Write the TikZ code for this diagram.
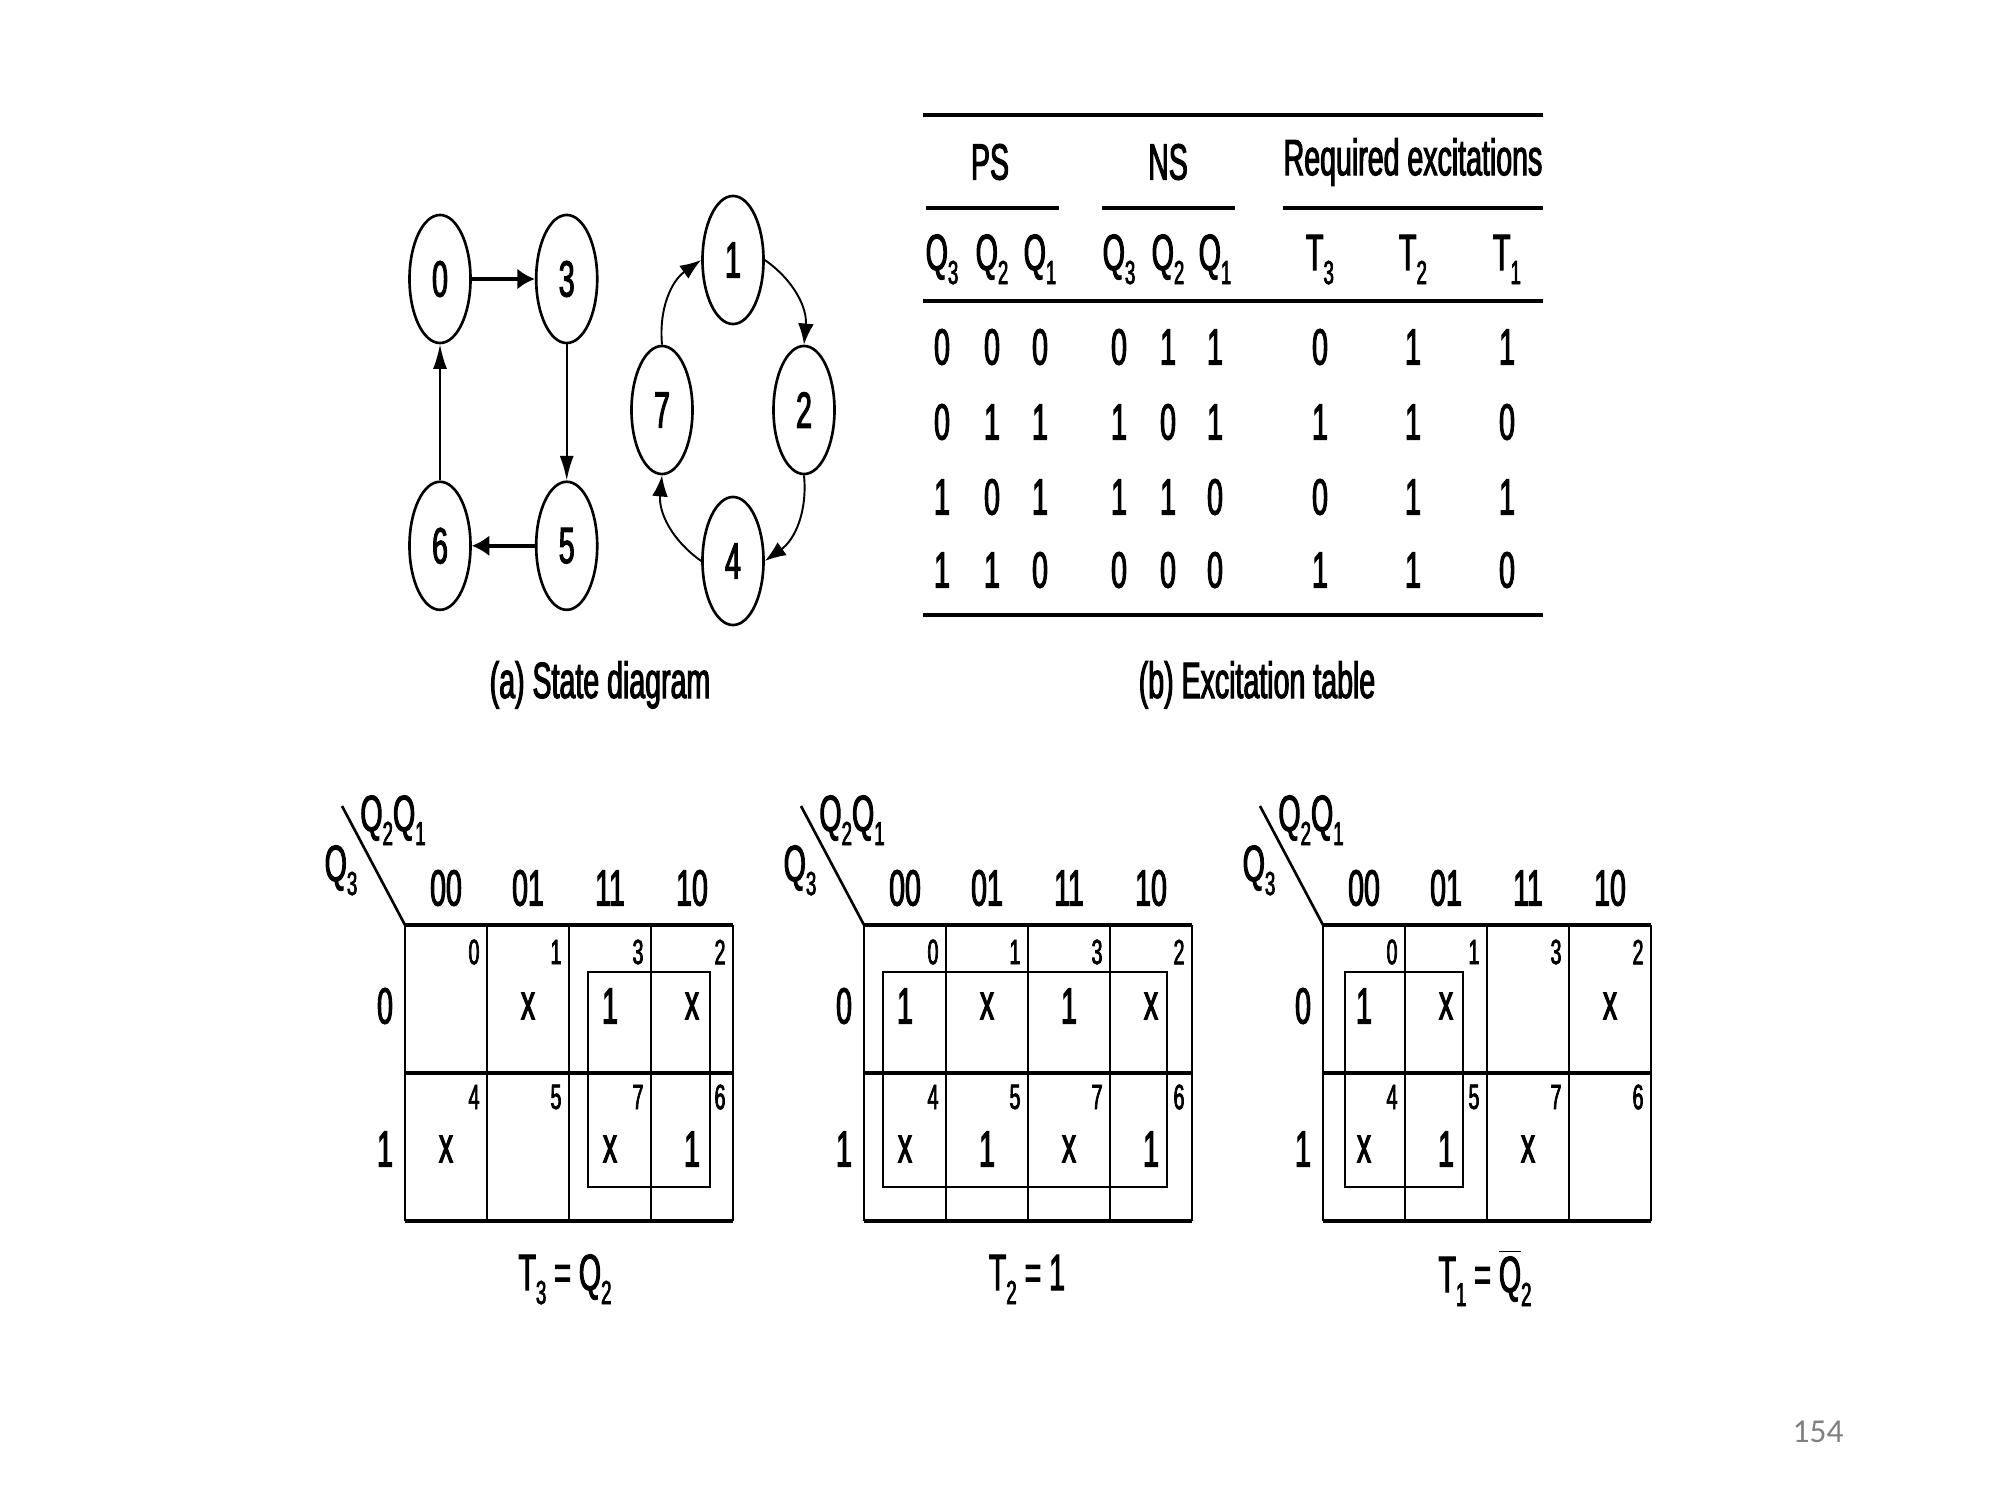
\documentclass[tikz,border=0pt]{standalone}
\usepackage{fontspec}
\newfontfamily\cond[FakeStretch=0.56, FakeBold=2]{Liberation Sans}
\newfontfamily\slidefont{Carlito}
\usetikzlibrary{arrows.meta, positioning, calc, shapes.geometric}
\newcommand{\idx}[1]{\raisebox{-4pt}{\fontsize{9.5}{10}\selectfont #1}}

\begin{document}
\begin{tikzpicture}[x=0.01cm, y=-0.01cm,
    txt/.style={font=\cond\fontsize{14.5}{16}\selectfont, inner sep=0pt},
    small/.style={font=\cond\fontsize{10}{11}\selectfont, inner sep=0pt},
    state/.style={ellipse, draw, line width=0.75pt, minimum width=0.61cm, minimum height=1.28cm, inner sep=0pt, font=\cond\fontsize{14.5}{16}\selectfont},
    arr/.style={-{Latex[length=7pt,width=4pt]}, line width=0.55pt},
    curvarr/.style={-{Latex[length=6pt,width=4.5pt]}, line width=0.55pt},
    thickarr/.style={-{Latex[length=5pt,width=6pt]}, line width=1.1pt},
    tabrule/.style={line width=1.4pt},
    subrule/.style={line width=1.2pt},
    kline/.style={line width=0.75pt},
    kthick/.style={line width=1.2pt}]
    \useasboundingbox (0,0) rectangle (2000,1500);

    % State diagram
    \node[state] (s0) at (440,279) {0};
    \node[state, right=0.63cm of s0] (s3) {3};
    \node[state, below=1.36cm of s0] (s6) {6};
    \node[state, below=1.36cm of s3] (s5) {5};

    \node[state] (s1) at (733,260) {1};
    \node[state] (s2) at (804,410) {2};
    \node[state] (s7) at (662,410) {7};
    \node[state] (s4) at (733,561) {4};

    \draw[thickarr] (s0) -- (s3);
    \draw[arr] (s3) -- (s5);
    \draw[thickarr] (s5) -- (s6);
    \draw[arr] (s6) -- (s0);

    \draw[curvarr] (s7.north) to[bend left=30] (s1.west);
    \draw[curvarr] (s1.east) to[bend left=30] (s2.north);
    \draw[curvarr] (s2.south) to[bend left=30] (s4.east);
    \draw[curvarr] (s4.west) to[bend left=30] (s7.south);

    \node[txt, anchor=base] (capa) at (600,698) {(a) State diagram};

    % Excitation table
    \draw[tabrule] (923,115) -- (1543,115);
    \node[txt] (ps) at (990,162) {PS};
    \node[txt] (ns) at (1168,162) {NS};
    \node[txt] (req) at (1413,162) {Required excitations};
    \draw[subrule] (926,208) -- (1059,208);
    \draw[subrule] (1102,208) -- (1235,208);
    \draw[subrule] (1283,208) -- (1543,208);

    \node[txt, anchor=base] (h1) at (942,270) {Q\idx{3}};
    \node[txt, anchor=base] (h2) at (992,270) {Q\idx{2}};
    \node[txt, anchor=base] (h3) at (1040,270) {Q\idx{1}};
    \node[txt, anchor=base] (h4) at (1119,270) {Q\idx{3}};
    \node[txt, anchor=base] (h5) at (1168,270) {Q\idx{2}};
    \node[txt, anchor=base] (h6) at (1215,270) {Q\idx{1}};
    \node[txt, anchor=base] (h7) at (1320,270) {T\idx{3}};
    \node[txt, anchor=base] (h8) at (1413,270) {T\idx{2}};
    \node[txt, anchor=base] (h9) at (1507,270) {T\idx{1}};
    \draw[tabrule] (923,301) -- (1543,301);

    \foreach \y/\a/\b/\c/\d/\e/\f/\g/\h/\k [count=\i] in
        {347/0/0/0/0/1/1/0/1/1, 422/0/1/1/1/0/1/1/1/0,
         497/1/0/1/1/1/0/0/1/1, 570/1/1/0/0/0/0/1/1/0} {
        \node[txt] (r\i-1) at (942,\y) {\a};
        \node[txt] (r\i-2) at (992,\y) {\b};
        \node[txt] (r\i-3) at (1040,\y) {\c};
        \node[txt] (r\i-4) at (1119,\y) {\d};
        \node[txt] (r\i-5) at (1168,\y) {\e};
        \node[txt] (r\i-6) at (1215,\y) {\f};
        \node[txt] (r\i-7) at (1320,\y) {\g};
        \node[txt] (r\i-8) at (1413,\y) {\h};
        \node[txt] (r\i-9) at (1507,\y) {\k};
    }
    \draw[tabrule] (923,615) -- (1543,615);

    \node[txt, anchor=base] (capb) at (1257,698) {(b) Excitation table};

    % K-maps
    \foreach \m in {0,1,2} {
        \pgfmathsetmacro{\ox}{405+459*\m}
        \draw[kthick] (\ox,925) -- ++(328,0) (\ox,1073) -- ++(328,0) (\ox,1221) -- ++(328,0);
        \foreach \k in {0,...,4}
            \draw[kline] (\ox+82*\k,925) -- (\ox+82*\k,1221);
        \draw[kline] (\ox,925) -- (\ox-63,806);
        \node[txt, anchor=base] (top\m) at (\ox-12,831) {Q\idx{2}Q\idx{1}};
        \node[txt, anchor=base] (side\m) at (\ox-64,881) {Q\idx{3}};
        \foreach \lab [count=\k from 0] in {00,01,11,10}
            \node[txt] (col\m-\lab) at (\ox+41+82*\k,888) {\lab};
        \node[txt] (row\m-0) at (\ox-20,1006) {0};
        \node[txt] (row\m-1) at (\ox-20,1149) {1};
        \foreach \n [count=\k from 0] in {0,1,3,2}
            \node[small] (n\m-\n) at (\ox+69+82*\k,952) {\n};
        \foreach \n [count=\k from 0] in {4,5,7,6}
            \node[small] (n\m-\n) at (\ox+69+82*\k,1097) {\n};
    }

    % map entries
    \node[txt] (a1) at (528,1006) {x};
    \node[txt] (a3) at (610,1006) {1};
    \node[txt] (a2) at (692,1006) {x};
    \node[txt] (a4) at (446,1149) {x};
    \node[txt] (a7) at (610,1149) {x};
    \node[txt] (a6) at (692,1149) {1};

    \node[txt] (b0) at (905,1006) {1};
    \node[txt] (b1) at (987,1006) {x};
    \node[txt] (b3) at (1069,1006) {1};
    \node[txt] (b2) at (1151,1006) {x};
    \node[txt] (b4) at (905,1149) {x};
    \node[txt] (b5) at (987,1149) {1};
    \node[txt] (b7) at (1069,1149) {x};
    \node[txt] (b6) at (1151,1149) {1};

    \node[txt] (c0) at (1364,1006) {1};
    \node[txt] (c1) at (1446,1006) {x};
    \node[txt] (c2) at (1610,1006) {x};
    \node[txt] (c4) at (1364,1149) {x};
    \node[txt] (c5) at (1446,1149) {1};
    \node[txt] (c7) at (1528,1149) {x};

    % groups
    \draw[kline] (588,972) rectangle (710,1187);
    \draw[kline] (883,972) rectangle (1167,1187);
    \draw[kline] (1345,972) rectangle (1463,1187);

    \node[txt, anchor=base] (f3) at (565,1290) {T\idx{3} = Q\idx{2}};
    \node[txt, anchor=base] (f2) at (1027,1290) {T\idx{2} = 1};
    \node[txt, anchor=base] (f1) at (1485,1292) {T\idx{1} = $\overline{\mbox{Q}}$\idx{2}};

    \node[font=\slidefont\fontsize{9.5}{10}\selectfont, text=gray] (page) at (1818,1432) {154};
\end{tikzpicture}
\end{document}
